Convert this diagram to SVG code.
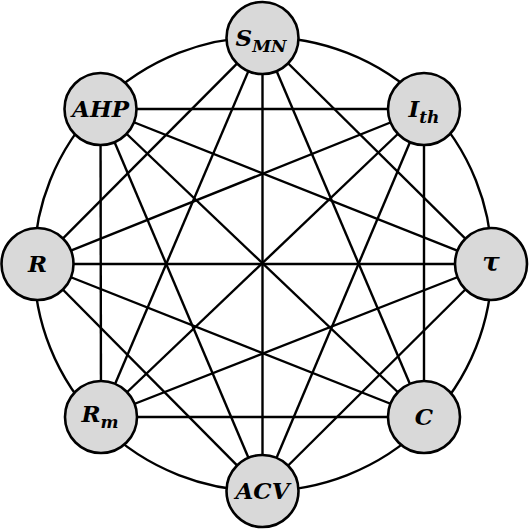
<svg xmlns="http://www.w3.org/2000/svg" width="529" height="529" viewBox="0 0 529 529">
<style>
.edge{stroke:#000;stroke-width:2.4;fill:none}
.node{fill:#d9d9d9;stroke:#000;stroke-width:2.6}
.lbl{font-family:"DejaVu Serif","Liberation Serif",serif;font-weight:bold;font-style:italic;font-size:23px;fill:#000;text-anchor:middle}
.sub{font-size:17px}
</style>
<rect width="529" height="529" fill="#fff"/>
<g id="connectors">
<ellipse class="edge" cx="263" cy="264" rx="229" ry="227"/>
<!-- S_MN -->
<line class="edge" x1="262.5" y1="38" x2="491" y2="264"/>
<line class="edge" x1="262.5" y1="38" x2="424" y2="417"/>
<line class="edge" x1="262.5" y1="38" x2="262.5" y2="491"/>
<line class="edge" x1="262.5" y1="38" x2="101" y2="417"/>
<line class="edge" x1="262.5" y1="38" x2="37.5" y2="264"/>
<!-- I_th -->
<line class="edge" x1="424" y1="109" x2="424" y2="417"/>
<line class="edge" x1="424" y1="109" x2="262.5" y2="491"/>
<line class="edge" x1="424" y1="109" x2="101" y2="417"/>
<line class="edge" x1="424" y1="109" x2="37.5" y2="264"/>
<line class="edge" x1="424" y1="109" x2="100.5" y2="109"/>
<!-- tau -->
<line class="edge" x1="491" y1="264" x2="262.5" y2="491"/>
<line class="edge" x1="491" y1="264" x2="101" y2="417"/>
<line class="edge" x1="491" y1="264" x2="37.5" y2="264"/>
<line class="edge" x1="491" y1="264" x2="100.5" y2="109"/>
<!-- C -->
<line class="edge" x1="424" y1="417" x2="101" y2="417"/>
<line class="edge" x1="424" y1="417" x2="37.5" y2="264"/>
<line class="edge" x1="424" y1="417" x2="100.5" y2="109"/>
<!-- ACV -->
<line class="edge" x1="262.5" y1="491" x2="37.5" y2="264"/>
<line class="edge" x1="262.5" y1="491" x2="100.5" y2="109"/>
<!-- R_m -->
<line class="edge" x1="101" y1="417" x2="100.5" y2="109"/>
</g>
<g id="n-smn">
<circle class="node" cx="262.5" cy="38" r="36"/>
<text class="lbl" x="261" y="46">S<tspan class="sub" dy="6">MN</tspan></text>
</g>
<g id="n-ith">
<circle class="node" cx="424" cy="109" r="36"/>
<text class="lbl" x="424" y="117">I<tspan class="sub" dy="6">th</tspan></text>
</g>
<g id="n-tau">
<circle class="node" cx="491" cy="264" r="36"/>
<text class="lbl" x="491" y="271" style="font-size:26px">τ</text>
</g>
<g id="n-c">
<circle class="node" cx="424" cy="417" r="36"/>
<text class="lbl" x="424" y="425">C</text>
</g>
<g id="n-acv">
<circle class="node" cx="262.5" cy="491" r="36"/>
<text class="lbl" x="262.5" y="499">ACV</text>
</g>
<g id="n-rm">
<circle class="node" cx="101" cy="417" r="36"/>
<text class="lbl" x="100" y="422">R<tspan class="sub" dy="6">m</tspan></text>
</g>
<g id="n-r">
<circle class="node" cx="37.5" cy="264" r="36"/>
<text class="lbl" x="37.5" y="272">R</text>
</g>
<g id="n-ahp">
<circle class="node" cx="100.5" cy="109" r="36"/>
<text class="lbl" x="100.5" y="117">AHP</text>
</g>
</svg>
